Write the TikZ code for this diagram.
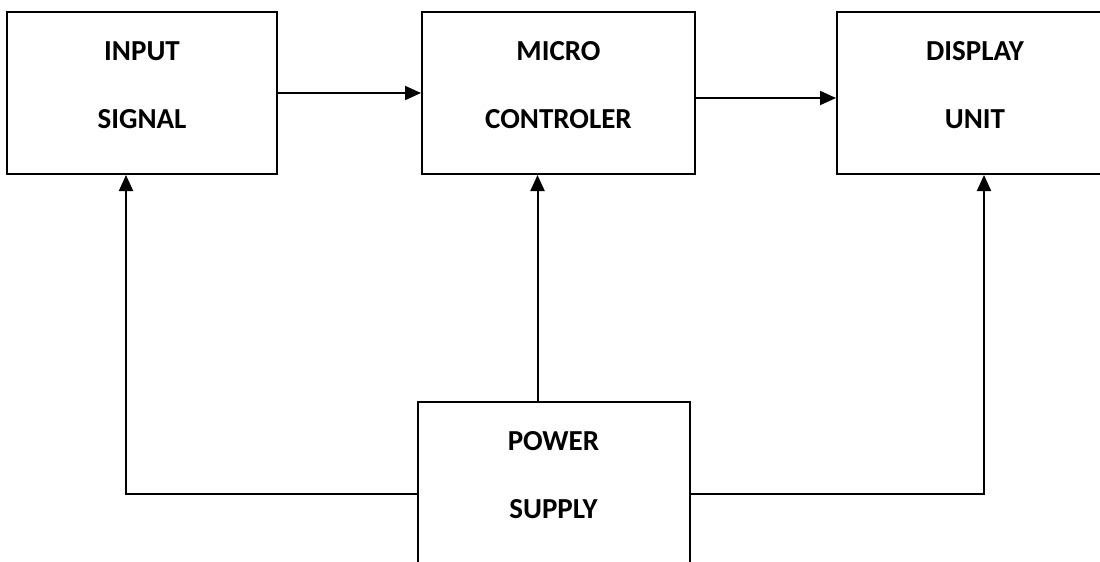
\documentclass[tikz,border=0pt]{standalone}
\usepackage{fontspec}
\setmainfont{Carlito}
\usepackage{tikz}
\usetikzlibrary{arrows.meta, positioning}

\begin{document}
\begin{tikzpicture}[
        x=1pt, y=-1pt,
        % Styles
        block/.style={
            rectangle, draw=black, line width=2pt,
            minimum width=272pt, minimum height=162pt,
            text depth=16pt,
            align=center, font=\bfseries\fontsize{29}{34}\selectfont
        },
        line/.style={
            -{Triangle[length=16pt, width=14pt]},
            draw=black, line width=2pt
        }
    ]

        \useasboundingbox (0,0) rectangle (1100,562);
        \clip (0,0) rectangle (1100,562);

        % Blocks
        \node[block, minimum width=270pt] (input) at (142,93) {INPUT\\[34pt]SIGNAL};
        \node[block, minimum width=273pt, right=143pt of input] (micro) {MICRO\\[34pt]CONTROLER};
        \node[block, minimum width=276pt, right=140pt of micro] (display) {DISPLAY\\[34pt]UNIT};
        \node[block, below=226pt of micro, xshift=-5pt] (power) {POWER\\[34pt]SUPPLY};

        % Connections
        \draw[line] (input.east) -- (micro.west);
        \draw[line] ([yshift=-5pt]micro.east) -- ([yshift=-5pt]display.west);

        % Supply lines
        \draw[line] ([xshift=-16pt]power.north) -- ([xshift=-16pt]power.north |- micro.south);
        \draw[line] ([yshift=-11pt]power.west) -| ([xshift=-16pt]input.south);
        \draw[line] ([yshift=-11pt]power.east) -| ([xshift=9pt]display.south);

    \end{tikzpicture}
\end{document}
